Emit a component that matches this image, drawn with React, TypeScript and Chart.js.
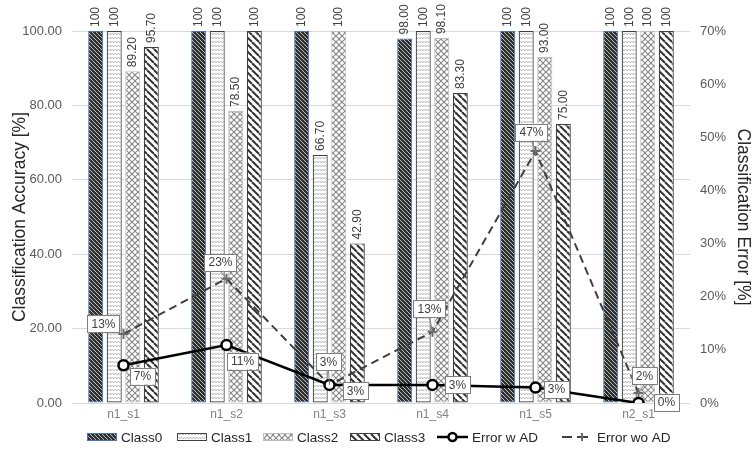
import { useEffect, useRef } from 'react';
import { Chart, registerables } from 'chart.js';

Chart.register(...registerables);

const categories = ['n1_s1', 'n1_s2', 'n1_s3', 'n1_s4', 'n1_s5', 'n2_s1'];
const class0 = [100, 100, 100, 98.0, 100, 100];
const class1 = [100, 100, 66.7, 100, 100, 100];
const class2 = [89.2, 78.5, 100, 98.1, 93.0, 100];
const class3 = [95.7, 100, 42.9, 83.3, 75.0, 100];
const errorWithAD = [7.1, 10.9, 3.4, 3.4, 2.9, 0];
const errorWithoutAD = [13.0, 23.4, 3.4, 13.4, 47.4, 1.9];
const classNames = ['Class0', 'Class1', 'Class2', 'Class3'];
const lineNames = ['Error w AD', 'Error wo AD'];
const accuracyMax = 100;
const accuracyStep = 20;
const errorMax = 70;
const errorStep = 10;

// label placement (style, not data): offsets of percent boxes from their points
const woLabelOffsets = [[-20, -10], [-6, -16], [-1, -23], [-3, -23], [-4, -19], [6, -17]];
const wLabelOffsets = [[19, 11], [16, 16], [26, 6], [25, 0], [21, 2], [28, -1]];
// legend layout (style): symbol start x, symbol length, gap to text
const legendX = [87, 177, 263, 350, 437, 562];
const legendSymbolW = [30, 30, 30, 30, 31, 26];
const legendTextGap = [4, 4, 4, 4, 4, 9];

const FONT = "'Liberation Sans', Arial, sans-serif";

function makePattern(kind: number): CanvasPattern | string {
  const c = document.createElement('canvas');
  const ctx = c.getContext('2d');
  if (!ctx) return '#888';
  if (kind === 0) {
    c.width = 4; c.height = 4;
    ctx.fillStyle = '#303030';
    ctx.fillRect(0, 0, 4, 4);
    ctx.strokeStyle = '#bdbdbd';
    ctx.lineWidth = 1;
    for (const o of [-4, 0, 4]) {
      ctx.beginPath(); ctx.moveTo(o, 0); ctx.lineTo(o + 4, 4); ctx.stroke();
    }
  } else if (kind === 1) {
    c.width = 6; c.height = 4;
    ctx.fillStyle = '#ffffff';
    ctx.fillRect(0, 0, 6, 4);
    ctx.strokeStyle = '#bcbcbc';
    ctx.lineWidth = 1;
    ctx.beginPath();
    ctx.moveTo(0, 3); ctx.lineTo(1.5, 1); ctx.lineTo(3, 3); ctx.lineTo(4.5, 1); ctx.lineTo(6, 3);
    ctx.stroke();
  } else if (kind === 2) {
    c.width = 6; c.height = 6;
    ctx.fillStyle = '#ffffff';
    ctx.fillRect(0, 0, 6, 6);
    ctx.strokeStyle = '#8a8a8a';
    ctx.lineWidth = 1.2;
    for (const o of [-6, 0, 6]) {
      ctx.beginPath(); ctx.moveTo(o, 0); ctx.lineTo(o + 6, 6); ctx.stroke();
      ctx.beginPath(); ctx.moveTo(o, 6); ctx.lineTo(o + 6, 0); ctx.stroke();
    }
  } else {
    c.width = 7; c.height = 7;
    ctx.fillStyle = '#ffffff';
    ctx.fillRect(0, 0, 7, 7);
    ctx.strokeStyle = '#333333';
    ctx.lineWidth = 2;
    for (const o of [-7, 0, 7]) {
      ctx.beginPath(); ctx.moveTo(o, 0); ctx.lineTo(o + 7, 7); ctx.stroke();
    }
  }
  return ctx.createPattern(c, 'repeat') || '#888';
}

const barBorders = ['#4472C4', '#404040', '#bdbdbd', '#404040'];
const barBorderWidths = [1, 1.2, 1, 1.2];

function fmtAcc(v: number) {
  return v === 100 ? '100' : v.toFixed(2);
}

export default function App() {
  const ref = useRef<HTMLCanvasElement>(null);

  useEffect(() => {
    document.body.style.margin = '0';
    const canvas = ref.current;
    if (!canvas) return;
    const patterns = [0, 1, 2, 3].map(makePattern);
    const classData = [class0, class1, class2, class3];

    const labelPlugin = {
      id: 'customLabels',
      afterDatasetsDraw(chart: any) {
        const ctx = chart.ctx as CanvasRenderingContext2D;
        ctx.save();
        ctx.font = `12px ${FONT}`;
        ctx.fillStyle = '#404040';
        for (let d = 0; d < 4; d++) {
          const meta = chart.getDatasetMeta(d + 2);
          meta.data.forEach((el: any, i: number) => {
            ctx.save();
            ctx.translate(el.x, el.y - 4);
            ctx.rotate(-Math.PI / 2);
            ctx.textAlign = 'left';
            ctx.textBaseline = 'middle';
            ctx.fillText(fmtAcc(classData[d][i]), 0, 0);
            ctx.restore();
          });
        }
        const drawBox = (x: number, y: number, px: number, py: number, text: string, leader: boolean) => {
          ctx.font = `12px ${FONT}`;
          const w = ctx.measureText(text).width + 8;
          const h = 17;
          const bx = x - w / 2, by = y - h / 2;
          if (leader) {
            const gap = py - (by + h);
            if (gap > 3) {
              ctx.strokeStyle = '#7f7f7f';
              ctx.lineWidth = 1;
              ctx.beginPath();
              ctx.moveTo(x, by + h);
              ctx.lineTo(px, py);
              ctx.stroke();
            }
          }
          ctx.fillStyle = '#ffffff';
          ctx.fillRect(bx, by, w, h);
          ctx.strokeStyle = '#7f7f7f';
          ctx.lineWidth = 1;
          ctx.strokeRect(Math.round(bx) + 0.5, Math.round(by) + 0.5, Math.round(w), h);
          ctx.fillStyle = '#404040';
          ctx.textAlign = 'center';
          ctx.textBaseline = 'middle';
          ctx.fillText(text, x, y + 0.5);
        };
        const mWo = chart.getDatasetMeta(1);
        mWo.data.forEach((el: any, i: number) => {
          const [dx, dy] = woLabelOffsets[i];
          drawBox(el.x + dx, el.y + dy, el.x, el.y, Math.round(errorWithoutAD[i]) + '%', true);
        });
        const mW = chart.getDatasetMeta(0);
        mW.data.forEach((el: any, i: number) => {
          const [dx, dy] = wLabelOffsets[i];
          drawBox(el.x + dx, el.y + dy, el.x, el.y, Math.round(errorWithAD[i]) + '%', false);
        });
        ctx.restore();
      },
      afterDraw(chart: any) {
        const ctx = chart.ctx as CanvasRenderingContext2D;
        ctx.save();
        ctx.font = `13.5px ${FONT}`;
        const labels = [...classNames, ...lineNames];
        const y = 437;
        labels.forEach((l, i) => {
          const x = legendX[i];
          const sw = legendSymbolW[i];
          if (i < 4) {
            ctx.fillStyle = patterns[i] as any;
            ctx.fillRect(x, y - 4, sw, 8);
            ctx.strokeStyle = barBorders[i];
            ctx.lineWidth = 1;
            ctx.strokeRect(x + 0.5, y - 3.5, sw - 1, 7);
          } else if (i === 4) {
            ctx.strokeStyle = '#000000';
            ctx.lineWidth = 2.5;
            ctx.setLineDash([]);
            ctx.beginPath(); ctx.moveTo(x, y); ctx.lineTo(x + sw, y); ctx.stroke();
            ctx.beginPath(); ctx.arc(x + sw / 2, y, 4, 0, Math.PI * 2);
            ctx.fillStyle = '#ffffff'; ctx.fill(); ctx.stroke();
          } else {
            ctx.strokeStyle = '#404040';
            ctx.lineWidth = 2;
            ctx.setLineDash([]);
            ctx.beginPath(); ctx.moveTo(x, y); ctx.lineTo(x + 10, y); ctx.stroke();
            ctx.beginPath(); ctx.moveTo(x + 15, y); ctx.lineTo(x + sw, y); ctx.stroke();
            ctx.strokeStyle = '#6a6a6a';
            ctx.beginPath();
            ctx.moveTo(x + 20, y - 4); ctx.lineTo(x + 20, y + 4);
            ctx.stroke();
          }
          ctx.fillStyle = '#262626';
          ctx.textAlign = 'left';
          ctx.textBaseline = 'middle';
          ctx.fillText(l, x + sw + legendTextGap[i], y + 1);
        });
        ctx.restore();
      },
    };

    const chart = new Chart(canvas, {
      type: 'bar',
      data: {
        labels: categories,
        datasets: [
          {
            type: 'line',
            label: lineNames[0],
            data: errorWithAD,
            yAxisID: 'y1',
            borderColor: '#000000',
            borderWidth: 2.5,
            pointStyle: 'circle',
            pointRadius: 5,
            pointBorderWidth: 2.5,
            pointBackgroundColor: '#ffffff',
            pointBorderColor: '#000000',
            tension: 0,
            order: 0,
          } as any,
          {
            type: 'line',
            label: lineNames[1],
            data: errorWithoutAD,
            yAxisID: 'y1',
            borderColor: '#404040',
            borderWidth: 2,
            borderDash: [8, 5],
            pointStyle: 'cross',
            pointRadius: 5,
            pointBorderWidth: 2,
            pointBorderColor: '#6a6a6a',
            tension: 0,
            order: 1,
          } as any,
          ...classData.map((data, i) => ({
            type: 'bar',
            label: classNames[i],
            data,
            yAxisID: 'y',
            backgroundColor: patterns[i],
            borderColor: barBorders[i],
            borderWidth: barBorderWidths[i],
            borderSkipped: false,
            categoryPercentage: 0.72,
            barPercentage: 0.81,
            order: 2,
          } as any)),
        ],
      },
      options: {
        responsive: true,
        maintainAspectRatio: false,
        animation: false,
        layout: { padding: { top: 31, bottom: 0, left: 0, right: 0 } },
        plugins: {
          legend: { display: false },
          tooltip: { enabled: false },
        },
        scales: {
          x: {
            grid: { display: false, drawTicks: false },
            border: { display: false },
            ticks: { color: '#808080', font: { family: FONT, size: 12 }, padding: 4 },
            afterFit: (s: any) => { s.height = 49; },
          },
          y: {
            position: 'left',
            min: 0,
            max: accuracyMax,
            ticks: {
              stepSize: accuracyStep,
              color: '#595959',
              font: { family: FONT, size: 13 },
              padding: 10,
              callback: (v: any) => Number(v).toFixed(2),
            },
            grid: { color: '#d9d9d9', drawTicks: false, lineWidth: 1 },
            border: { display: false },
            title: {
              display: true,
              text: 'Classification Accuracy [%]',
              color: '#262626',
              font: { family: FONT, size: 17.5 },
              padding: { top: 10, bottom: 0 },
            },
            afterFit: (s: any) => { s.width = 72; },
          },
          y1: {
            position: 'right',
            min: 0,
            max: errorMax,
            ticks: {
              stepSize: errorStep,
              color: '#595959',
              font: { family: FONT, size: 13 },
              padding: 10,
              callback: (v: any) => v + '%',
            },
            grid: { display: false, drawTicks: false },
            border: { display: false },
            title: {
              display: true,
              text: 'Classification Error [%]',
              color: '#262626',
              font: { family: FONT, size: 17.5 },
              padding: { top: 1, bottom: 0 },
            },
            afterFit: (s: any) => { s.width = 64; },
          },
        },
      },
      plugins: [labelPlugin],
    });
    return () => chart.destroy();
  }, []);

  return (
    <div style={{ width: 754, height: 452, position: 'relative', background: '#ffffff' }}>
      <canvas ref={ref} />
    </div>
  );
}
